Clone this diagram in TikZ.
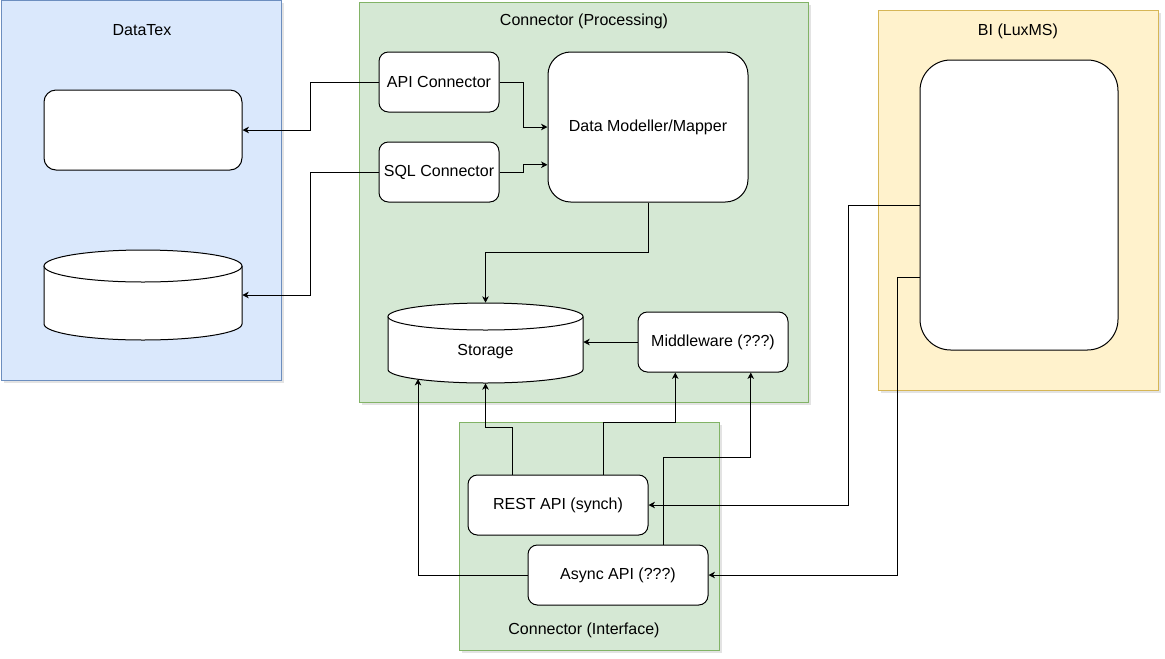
\documentclass[tikz,border=0pt]{standalone}
\usepackage{fontspec}
\setmainfont{Liberation Sans}
\usetikzlibrary{arrows.meta,calc,shadows}

\definecolor{bluefill}{HTML}{DAE8FC}
\definecolor{blueline}{HTML}{6C8EBF}
\definecolor{greenfill}{HTML}{D5E8D4}
\definecolor{greenline}{HTML}{82B366}
\definecolor{yellowfill}{HTML}{FFF2CC}
\definecolor{yellowline}{HTML}{D6B656}

% database drum: x0, y0 (top), x1, y1 (bottom), ellipse half-height
\newcommand{\dbdrum}[5]{%
  \pgfmathsetmacro\dbcx{(#1+#3)/2}%
  \pgfmathsetmacro\dbrx{(#3-#1)/2}%
  \pgfmathsetmacro\dbtop{#2+#5}%
  \pgfmathsetmacro\dbbot{#4-#5}%
  \pgfmathsetmacro\dbk{0.5523*#5}%
  \pgfmathsetmacro\dbkx{0.5523*\dbrx}%
  \fill[white] (#1,\dbtop) -- (#1,\dbbot)
    .. controls (#1,\dbbot+\dbk) and (\dbcx-\dbkx,#4) .. (\dbcx,#4)
    .. controls (\dbcx+\dbkx,#4) and (#3,\dbbot+\dbk) .. (#3,\dbbot)
    -- (#3,\dbtop) -- cycle;
  \draw[line width=0.75pt] (#1,\dbtop) -- (#1,\dbbot)
    .. controls (#1,\dbbot+\dbk) and (\dbcx-\dbkx,#4) .. (\dbcx,#4)
    .. controls (\dbcx+\dbkx,#4) and (#3,\dbbot+\dbk) .. (#3,\dbbot)
    -- (#3,\dbtop);
  \draw[line width=0.75pt, fill=white] (\dbcx,\dbtop) ellipse [x radius=\dbrx*0.75pt, y radius=#5*0.75pt];
}

\begin{document}
\begin{tikzpicture}[x=0.75pt,y=-0.75pt,
  every node/.style={font=\fontsize{12}{14}\selectfont, inner sep=0pt},
  sz/.style 2 args={minimum width=#1*0.75pt, minimum height=#2*0.75pt},
  zone/.style={line width=0.75pt, drop shadow={shadow xshift=2.25pt, shadow yshift=-2.25pt, opacity=0.22}},
  card/.style={draw, fill=white, line width=0.75pt, rounded corners=#1},
  card/.default=7pt,
  link/.style={draw, line width=0.75pt, line join=miter,
    -{Stealth[length=4.8pt, width=4.8pt, inset=1.4pt]}}]

\useasboundingbox (0,0) rectangle (1165,658);

% ---- containers ----
\node[zone, fill=bluefill, draw=blueline, sz={280}{380}] (datatex) at (141,190) {};
\node[zone, fill=greenfill, draw=greenline, sz={449}{400}] (processing) at (583.5,202) {};
\node[zone, fill=greenfill, draw=greenline, sz={260}{228}] (interface) at (589,536) {};
\node[zone, fill=yellowfill, draw=yellowline, sz={280}{380}] (bi) at (1018,200) {};

\node (datatexTitle) at (142,30) {DataTex};
\node (processingTitle) at (584,21) {Connector (Processing)};
\node (interfaceTitle) at (584,630) {Connector (Interface)};
\node (biTitle) at (1018,31) {BI (LuxMS)};

% ---- DataTex side ----
\node[card=9pt, sz={198}{80}] (dtbox) at (143,130) {};
\dbdrum{44}{250}{242}{340}{16}
\node[sz={198}{90}] (dtdb) at (143,295) {};

% ---- processing ----
\node[card, sz={120}{60}] (api) at (439,82) {API Connector};
\node[card, sz={120}{60}] (sql) at (439,172) {SQL Connector};
\node[card=17pt, sz={200}{150}] (dm) at (648,127) {Data Modeller/Mapper};
\dbdrum{388}{303}{583}{383}{13.5}
\node[sz={195}{80}] (store) at (485.5,343) {};
\node (storeText) at (485.5,352) {Storage};
\node[card, sz={150}{60}] (mw) at (713,342) {Middleware (???)};

% ---- interface ----
\node[card, sz={180}{60}] (rest) at (558,505) {REST API (synch)};
\node[card, sz={180}{60}] (async) at (618,575) {Async API (???)};

% ---- BI ----
\node[card=23pt, sz={198}{290}] (biapp) at (1019,205) {};

% ---- routing helpers ----
\coordinate (xDT) at (310,0);
\coordinate (xJoin) at (523,0);
\coordinate (xBIrest) at (848,0);
\coordinate (xBIasync) at (897,0);
\coordinate (dmLow) at ($(dm.north west)!0.75!(dm.south west)$);
\coordinate (restL) at ($(rest.north west)!0.25!(rest.north east)$);
\coordinate (restR) at ($(rest.north west)!0.75!(rest.north east)$);
\coordinate (asyncR) at ($(async.north west)!0.75!(async.north east)$);
\coordinate (mwL) at ($(mw.south west)!0.25!(mw.south east)$);
\coordinate (mwR) at ($(mw.south west)!0.75!(mw.south east)$);
\coordinate (biLow) at ($(biapp.north west)!0.75!(biapp.south west)$);
\coordinate (storeBL) at (418,379);

% ---- connectors ----
\draw[link] (api.west) -- (api.west -| xDT) |- (dtbox.east);
\draw[link] (sql.west) -- (sql.west -| xDT) |- (dtdb.east);
\draw[link] (api.east) -- (api.east -| xJoin) |- (dm.west);
\draw[link] (sql.east) -- (sql.east -| xJoin) |- (dmLow);
\draw[link] (dm.south) -- ++(0,50) -| (store.north);
\draw[link] (mw.west) -- (mw.west -| store.east);
\draw[link] (restL) -- ++(0,-47) -| (store.south);
\draw[link] (restR) -- ++(0,-52) -| (mwL);
\draw[link] (asyncR) -- ++(0,-87) -| (mwR);
\draw[link] (async.west) -| (storeBL);
\draw[link] (biapp.west) -- (biapp.west -| xBIrest) |- (rest.east);
\draw[link] (biLow) -- (biLow -| xBIasync) |- (async.east);

\end{tikzpicture}
\end{document}
